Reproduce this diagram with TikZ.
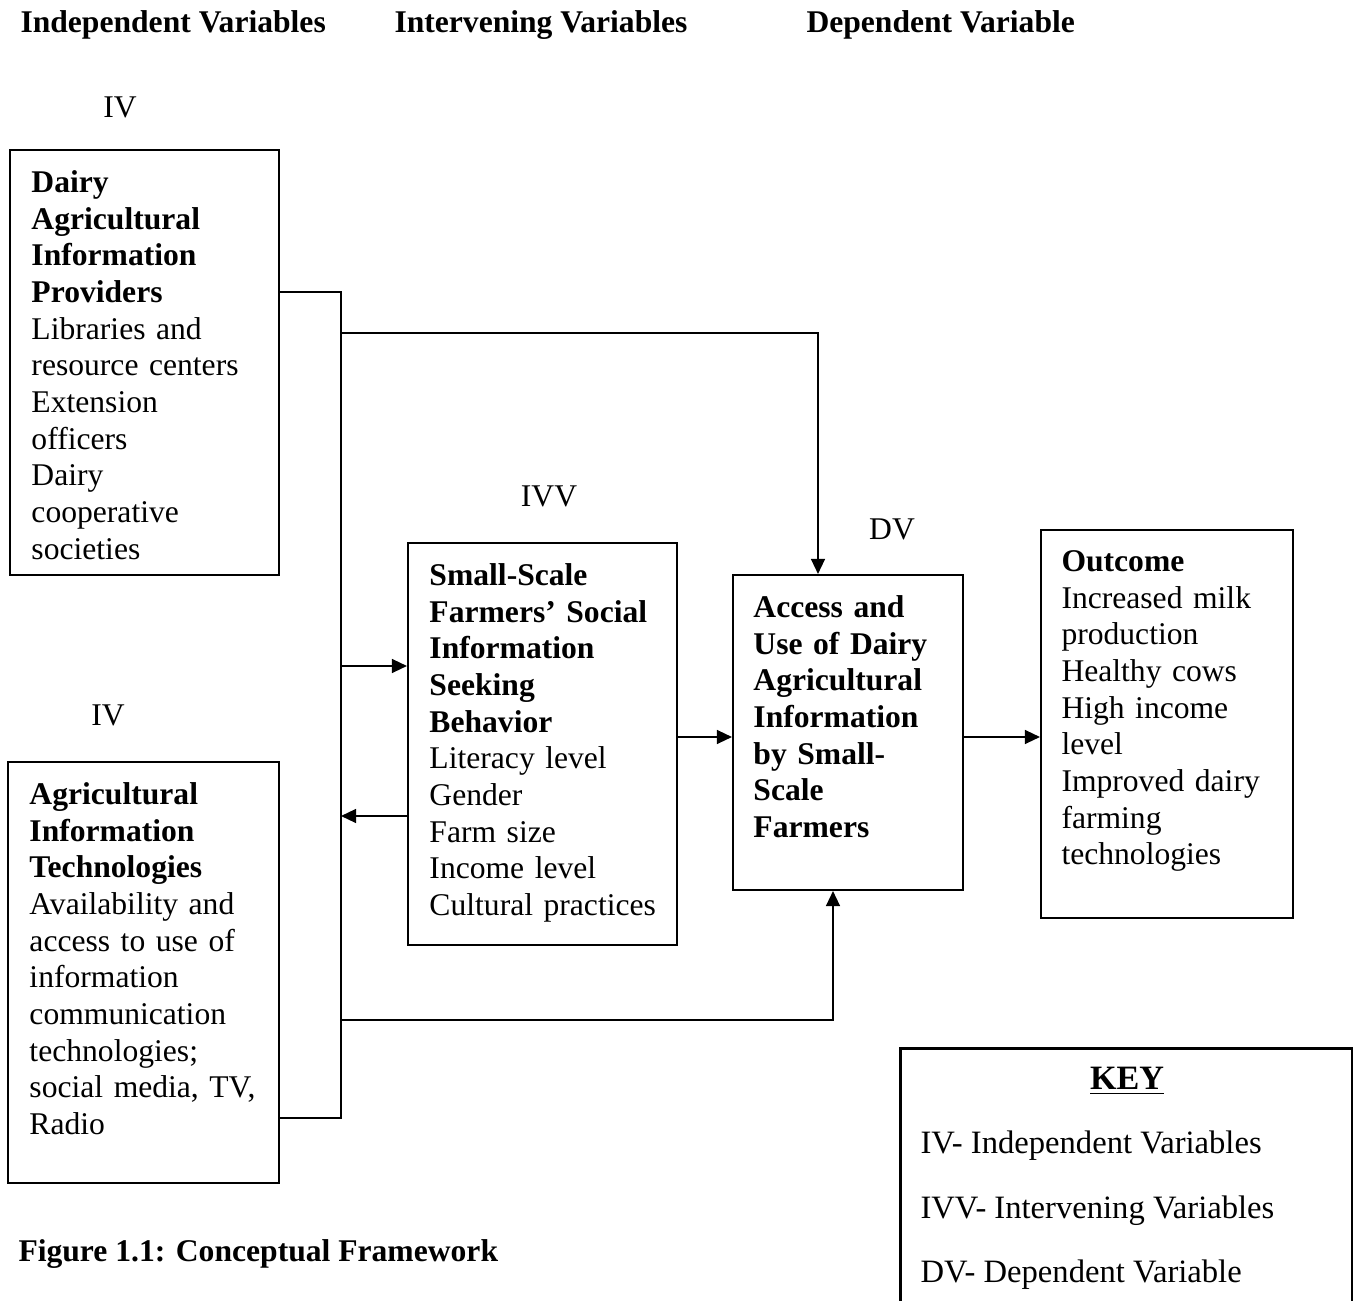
\documentclass[tikz,border=0pt]{standalone}
\usepackage{fontspec}
\setmainfont{Liberation Serif}
\usetikzlibrary{positioning, arrows.meta, fit, calc}

\begin{document}
\begin{tikzpicture}[x=0.0139cm, y=-0.0139cm,
  every node/.style={font=\fontsize{12.5}{14.5}\selectfont, inner sep=0pt},
  frame/.style={draw, line width=0.8pt, inner sep=0pt},
  txt/.style={anchor=north west, align=left, text width=3.6cm},
  lbl/.style={anchor=base},
  hdr/.style={anchor=base west, font=\fontsize{12.5}{14.5}\selectfont\bfseries},
  keyline/.style={anchor=base west, font=\fontsize{12.9}{15.5}\selectfont},
  arr/.style={line width=0.8pt, -{Triangle[length=6pt, width=5.5pt]}},
  wire/.style={line width=0.8pt}]
  \useasboundingbox (0,0) rectangle (1354,1301);
  % headings
  \node[hdr] (hIndep) at (20,33) {Independent Variables};
  \node[hdr] (hInterv) at (394,33) {Intervening Variables};
  \node[hdr] (hDep) at (806,33) {Dependent Variable};
  \node[lbl] (ivTop) at (120,118) {IV};
  \node[lbl] (ivBot) at (108,726) {IV};
  \node[lbl] (ivv) at (549,507) {IVV};
  \node[lbl] (dv) at (892,540) {DV};
  % boxes
  \node[frame, fit={(10,150) (279,575)}] (providers) {};
  \node[frame, fit={(8,762) (279,1183)}] (tech) {};
  \node[frame, fit={(408,543) (677,945)}] (seeking) {};
  \node[frame, fit={(733,575) (963,890)}] (access) {};
  \node[frame, fit={(1041,530) (1293,918)}] (outcome) {};
  \node[txt] (providersTxt) at ([shift={(22,21)}]providers.north west)
    {\textbf{Dairy}\\ \textbf{Agricultural}\\ \textbf{Information}\\ \textbf{Providers}\\
     Libraries and\\ resource centers\\ Extension\\ officers\\ Dairy\\ cooperative\\ societies};
  \node[txt] (techTxt) at ([shift={(22,21)}]tech.north west)
    {\textbf{Agricultural}\\ \textbf{Information}\\ \textbf{Technologies}\\
     Availability and\\ access to use of\\ information\\ communication\\ technologies;\\
     social media, TV,\\ Radio};
  \node[txt] (seekingTxt) at ([shift={(22,21)}]seeking.north west)
    {\textbf{Small-Scale}\\ \textbf{Farmers' Social}\\ \textbf{Information}\\ \textbf{Seeking}\\
     \textbf{Behavior}\\ Literacy level\\ Gender\\ Farm size\\ Income level\\ Cultural practices};
  \node[txt] (accessTxt) at ([shift={(21,21)}]access.north west)
    {\textbf{Access and}\\ \textbf{Use of Dairy}\\ \textbf{Agricultural}\\ \textbf{Information}\\
     \textbf{by Small-}\\ \textbf{Scale}\\ \textbf{Farmers}};
  \node[txt] (outcomeTxt) at ([shift={(21,21)}]outcome.north west)
    {\textbf{Outcome}\\ Increased milk\\ production\\ Healthy cows\\ High income\\ level\\
     Improved dairy\\ farming\\ technologies};
  % connectors
  \coordinate (busTop) at (341,292);
  \coordinate (busBot) at (341,1118);
  \draw[wire] (providers.east |- busTop) -- (busTop) -- (busBot) -- (tech.east |- busBot);
  \coordinate (toAccess) at (341,333);
  \draw[arr] (toAccess) -| ($(access.north)+(-30,0)$);
  \coordinate (toSeek) at (341,666);
  \draw[arr] (toSeek) -- (toSeek -| seeking.west);
  \coordinate (fromSeek) at (341,816);
  \draw[arr] (fromSeek -| seeking.west) -- (fromSeek);
  \coordinate (fromBus) at (341,1020);
  \draw[arr] (fromBus) -| ($(access.south)+(-15,0)$);
  \coordinate (midLine) at (0,737);
  \draw[arr] (seeking.east |- midLine) -- (access.west |- midLine);
  \draw[arr] (access.east |- midLine) -- (outcome.west |- midLine);
  % caption and key
  \node[hdr] (caption) at (18,1261) {Figure 1.1: Conceptual Framework};
  \node[fit={(901,1049) (1351,1301)}] (key) {};
  \draw[wire] (key.south west) -- (key.north west) -- (key.north east) -- (key.south east);
  \node[lbl, font=\fontsize{13.5}{16}\selectfont\bfseries] (keyTitle) at (1127,1090) {\underline{KEY}};
  \node[keyline] (keyIV) at (920,1153) {IV- Independent Variables};
  \node[keyline] (keyIVV) at (920,1218) {IVV- Intervening Variables};
  \node[keyline] (keyDV) at (920,1282) {DV- Dependent Variable};
\end{tikzpicture}
\end{document}
